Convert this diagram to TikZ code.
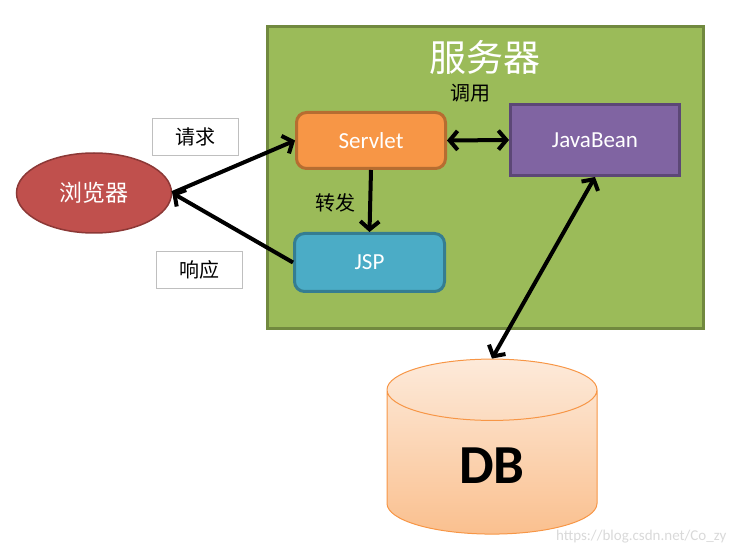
\documentclass[tikz,border=0pt]{standalone}
\usepackage{fontspec}
\setmainfont{Carlito}
\newfontfamily\cjk{Noto Sans CJK SC}
\usepackage{tikz}
\usetikzlibrary{arrows, arrows.meta, positioning, shapes.geometric}
\usepackage{xcolor}
\definecolor{servergreen}{HTML}{9BBB59}
\definecolor{serverline}{HTML}{71893F}
\definecolor{servletorange}{HTML}{F79646}
\definecolor{servletline}{HTML}{B66D31}
\definecolor{jspblue}{HTML}{4BACC6}
\definecolor{jspline}{HTML}{357D91}
\definecolor{beanpurple}{HTML}{8064A2}
\definecolor{beanline}{HTML}{5C4776}
\definecolor{browserred}{HTML}{C0504D}
\definecolor{browserline}{HTML}{8C3836}
\definecolor{dbtop}{HTML}{FDEADA}
\definecolor{dbbottom}{HTML}{FAC08F}

\begin{document}
\begin{tikzpicture}[x=1pt, y=-1pt, ->, >={Straight Barb[length=8pt, width=19pt]}]
    \tikzstyle{box} = [draw, line width=3pt, text=white, align=center, font=\fontsize{23}{25}\selectfont]
    \tikzstyle{label} = [draw=black!25, fill=white, minimum width=86pt, minimum height=37pt, font=\cjk\fontsize{20}{22}\selectfont]
    \tikzstyle{link} = [line width=4pt, black]
    \useasboundingbox (0,0) rectangle (736,553);
    \node [draw=serverline, fill=servergreen, line width=3pt, minimum width=436pt, minimum height=302pt] at (485.5,177.5) (server) {};
    \node [text=white, font=\cjk\fontsize{37}{39}\selectfont] at (485,57) (title) {服务器};
    \node [box, rounded corners=10pt, draw=servletline, fill=servletorange, minimum width=149pt, minimum height=56pt] at (371,140.5) (servlet) {Servlet};
    \node [box, draw=beanline, fill=beanpurple, minimum width=169pt, minimum height=71pt] at (595,140) (bean) {JavaBean};
    \node [box, rounded corners=10pt, draw=jspline, fill=jspblue, minimum width=150pt, minimum height=58pt] at (369.5,262.5) (jsp) {JSP};
    \node [ellipse, draw=browserline, fill=browserred, line width=1.5pt, minimum width=155pt, minimum height=80pt, text=white, font=\cjk\fontsize{23}{25}\selectfont] at (94,193) (browser) {浏览器};
    \node [label] at (195,136.5) (request) {请求};
    \node [label] at (199,270) (response) {响应};
    \node [font=\cjk\fontsize{20}{22}\selectfont] at (470,93) (call) {调用};
    \node [font=\cjk\fontsize{20}{22}\selectfont] at (335,203) (forward) {转发};
    \node [cylinder, shape border rotate=90, aspect=0.85, draw=servletorange, line width=1pt, top color=dbtop, bottom color=dbbottom, minimum width=210pt, minimum height=175pt, font=\bfseries\fontsize{55}{57}\selectfont] at (492,466) (db) {DB};
    \node [anchor=east, text=black!15, font=\fontsize{15}{17}\selectfont] at (730,537) (mark) {https://blog.csdn.net/Co\_zy};
    \draw[link] (browser.east) to (servlet.west);
    \draw[link] (jsp.west) to (browser.east);
    \draw[link] (servlet.south) to (jsp.north);
    \draw[link, <->] (servlet.east) to (bean.west);
    \draw[link, <->] (bean.south) to (db.north);
\end{tikzpicture}
\end{document}
